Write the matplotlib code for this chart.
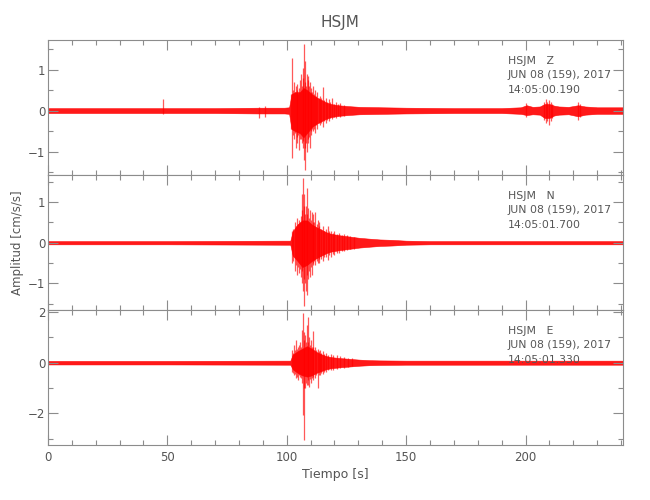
import numpy as np
import matplotlib
matplotlib.use('Agg')
import matplotlib.pyplot as plt
from matplotlib.ticker import MultipleLocator

# Station / header info
station = 'HSJM'
components = ['Z', 'N', 'E']
date_str = 'JUN 08 (159), 2017'
start_times = ['14:05:00.190', '14:05:01.700', '14:05:01.330']

# ---- Z component: envelope ----
t_z = [0, 10, 20, 30, 48, 70, 88, 99, 101.0, 102.0, 103.5, 105.5, 107.0, 108.5, 110.5,
       112.5, 114.5, 116.5, 118.5, 121.5, 125.5, 130.5, 140, 150, 170, 190, 198, 200.5,
       203, 206, 208, 210, 212, 214, 218, 222, 225, 230, 240.7]
hi_z = [0.06, 0.06, 0.06, 0.06, 0.06, 0.06, 0.07, 0.07, 0.08, 0.4, 0.45, 0.45, 0.55, 0.5,
        0.4, 0.32, 0.26, 0.2, 0.16, 0.13, 0.11, 0.09, 0.08, 0.07, 0.06, 0.06, 0.08, 0.13,
        0.09, 0.1, 0.16, 0.16, 0.12, 0.1, 0.09, 0.13, 0.1, 0.08, 0.08]
lo_z = [-0.06, -0.06, -0.06, -0.06, -0.06, -0.06, -0.07, -0.07, -0.08, -0.45, -0.5, -0.55,
        -0.65, -0.55, -0.4, -0.32, -0.26, -0.2, -0.16, -0.13, -0.11, -0.09, -0.08, -0.07,
        -0.06, -0.06, -0.08, -0.11, -0.09, -0.1, -0.18, -0.18, -0.12, -0.1, -0.09, -0.14,
        -0.1, -0.08, -0.08]
# individual spikes (time, max, min)
spk_t_z = [48.0, 88.2, 90.7, 101.7, 102.3, 102.7, 103.0, 103.4, 103.7, 104.1, 104.5, 104.9,
           105.3, 105.6, 106.0, 106.4, 106.7, 107.0, 107.3, 107.5, 107.8, 108.1, 108.4,
           108.7, 109.0, 109.3, 109.6, 110.0, 110.3, 110.7, 111.1, 111.5, 111.9, 112.3,
           112.8, 113.4, 114.0, 114.5, 115.1, 115.7, 116.3, 116.9, 117.5, 118.2, 119.0,
           119.7, 120.5, 121.5, 122.5, 124.0, 200.4, 207.8, 208.5, 209.1, 209.7, 210.5,
           211.2, 221.9, 222.7]
spk_hi_z = [0.28, 0.08, 0.1, 0.4, 1.29, 0.5, 0.7, 0.45, 0.6, 0.5, 0.65, 0.4, 0.55, 0.75,
            0.9, 0.6, 1.04, 0.8, 1.63, 0.7, 1.2, 0.6, 0.9, 0.75, 0.85, 0.6, 0.7, 0.45,
            0.55, 0.45, 0.6, 0.4, 0.5, 0.35, 0.45, 0.3, 0.35, 0.3, 0.58, 0.25, 0.3, 0.22,
            0.28, 0.2, 0.3, 0.17, 0.2, 0.15, 0.18, 0.14, 0.19, 0.2, 0.28, 0.2, 0.25, 0.22,
            0.16, 0.2, 0.15]
spk_lo_z = [-0.08, -0.18, -0.15, -0.45, -1.15, -0.6, -0.7, -0.55, -0.9, -0.65, -0.8, -0.6,
            -0.95, -0.7, -0.7, -0.8, -0.9, -0.75, -1.2, -0.9, -1.45, -0.8, -1.0, -0.7,
            -0.8, -0.65, -0.9, -0.5, -0.6, -0.45, -0.5, -0.45, -0.55, -0.35, -0.45, -0.3,
            -0.35, -0.3, -0.4, -0.25, -0.3, -0.22, -0.25, -0.18, -0.2, -0.16, -0.18, -0.14,
            -0.15, -0.12, -0.15, -0.22, -0.3, -0.25, -0.35, -0.25, -0.18, -0.23, -0.16]

# ---- N component ----
t_n = [0, 50, 99, 101.5, 102.5, 104.5, 106.5, 108.5, 110.5, 112.5, 114.5, 116.5, 118.5,
       122.5, 126.5, 130.5, 134.5, 139, 144, 150, 160, 240.7]
hi_n = [0.04, 0.04, 0.05, 0.05, 0.28, 0.45, 0.55, 0.55, 0.45, 0.38, 0.32, 0.26, 0.22, 0.18,
        0.15, 0.12, 0.1, 0.08, 0.07, 0.05, 0.04, 0.04]
lo_n = [-0.04, -0.04, -0.05, -0.05, -0.32, -0.45, -0.6, -0.55, -0.45, -0.38, -0.32, -0.26,
        -0.22, -0.18, -0.15, -0.12, -0.1, -0.08, -0.07, -0.05, -0.04, -0.04]
spk_t_n = [102.1, 102.7, 103.3, 103.7, 104.2, 104.6, 105.1, 105.5, 105.9, 106.2, 106.5,
           106.8, 107.1, 107.4, 107.7, 107.9, 108.3, 108.6, 109.0, 109.3, 109.7, 110.0,
           110.4, 110.8, 111.1, 111.5, 112.0, 112.5, 112.9, 113.3, 113.7, 114.3, 115.0,
           115.7, 116.4, 117.1, 117.8, 118.5, 119.3, 120.0, 121.0, 122.0, 123.0, 124.0,
           125.3, 126.5, 128.0]
spk_hi_n = [0.3, 0.35, 0.5, 0.4, 0.6, 0.45, 0.55, 0.5, 0.65, 0.8, 1.2, 1.6, 0.9, 1.2, 0.7,
            0.9, 1.35, 0.7, 0.85, 0.6, 0.8, 0.55, 0.75, 0.5, 0.7, 0.5, 0.75, 0.45, 0.55,
            0.4, 0.5, 0.35, 0.4, 0.3, 0.35, 0.4, 0.28, 0.3, 0.25, 0.28, 0.22, 0.25, 0.2,
            0.22, 0.18, 0.16, 0.15]
spk_lo_n = [-0.5, -0.45, -0.7, -0.55, -0.8, -0.6, -0.75, -0.65, -0.85, -0.7, -1.0, -1.2,
            -0.9, -1.55, -1.0, -1.2, -1.3, -0.8, -0.9, -0.7, -0.85, -0.6, -0.8, -0.5,
            -0.55, -0.45, -0.55, -0.45, -0.5, -0.4, -0.5, -0.4, -0.45, -0.35, -0.35,
            -0.43, -0.3, -0.35, -0.28, -0.3, -0.25, -0.25, -0.2, -0.2, -0.18, -0.16, -0.15]

# ---- E component ----
t_e = [0, 50, 99, 101.5, 102.5, 104.5, 106.5, 108.5, 110.5, 112.5, 114.5, 116.5, 118.5,
       122.5, 126.5, 130.5, 134.5, 139, 150, 240.7]
hi_e = [0.07, 0.07, 0.08, 0.08, 0.32, 0.45, 0.55, 0.65, 0.55, 0.42, 0.33, 0.26, 0.22, 0.18,
        0.15, 0.12, 0.1, 0.09, 0.08, 0.08]
lo_e = [-0.07, -0.07, -0.08, -0.08, -0.26, -0.4, -0.5, -0.55, -0.5, -0.4, -0.33, -0.26,
        -0.22, -0.18, -0.15, -0.12, -0.1, -0.09, -0.08, -0.08]
spk_t_e = [102.1, 102.5, 102.9, 103.3, 103.8, 104.2, 104.7, 105.1, 105.6, 106.0, 106.4,
           106.8, 107.1, 107.4, 107.7, 108.0, 108.3, 108.8, 109.1, 109.5, 109.9, 110.2,
           110.5, 110.8, 111.2, 111.7, 112.3, 112.9, 113.4, 113.8, 114.4, 115.0, 115.7,
           116.5, 117.3, 118.5, 119.5, 121.0, 122.5, 124.0, 125.5, 127.5]
spk_hi_e = [0.5, 0.4, 0.7, 0.5, 0.9, 0.55, 0.6, 0.7, 0.8, 0.6, 1.3, 1.96, 1.2, 0.9, 1.1,
            0.8, 1.5, 1.82, 0.8, 1.0, 0.7, 0.9, 0.6, 1.25, 0.6, 0.6, 0.5, 0.55, 0.45, 0.5,
            0.4, 0.45, 0.35, 0.4, 0.3, 0.35, 0.3, 0.3, 0.25, 0.22, 0.2, 0.17]
spk_lo_e = [-0.35, -0.4, -0.5, -0.45, -0.6, -0.55, -0.7, -0.5, -0.55, -0.6, -0.8, -2.07,
            -3.05, -1.0, -1.0, -0.8, -0.9, -0.9, -0.7, -0.95, -0.65, -0.8, -0.6, -0.7,
            -0.55, -0.6, -0.5, -1.0, -0.5, -0.5, -0.4, -0.45, -0.35, -0.35, -0.3, -0.3,
            -0.28, -0.25, -0.22, -0.2, -0.18, -0.15]

traces = [
    (t_z, hi_z, lo_z, spk_t_z, spk_hi_z, spk_lo_z),
    (t_n, hi_n, lo_n, spk_t_n, spk_hi_n, spk_lo_n),
    (t_e, hi_e, lo_e, spk_t_e, spk_hi_e, spk_lo_e),
]
ylims = [(-1.57, 1.72), (-1.66, 1.67), (-3.25, 2.08)]
ymajor = [1, 1, 2]
yminor = [0.5, 0.5, 1]

axcol = '#8c8c8c'
txtcol = '#555555'

fig = plt.figure(figsize=(6.5, 5), dpi=100)
gs = fig.add_gridspec(3, 1, left=0.0738, right=0.958, bottom=0.11, top=0.92, hspace=0)

for i in range(3):
    ax = fig.add_subplot(gs[i])
    t, hi, lo, st, sh, sl = traces[i]
    ax.fill_between(t, lo, hi, color='red', linewidth=0.4, alpha=0.9)
    ax.vlines(st, sl, sh, color='red', linewidth=0.9, alpha=0.65)

    ax.set_xlim(0, 240.7)
    ax.set_ylim(*ylims[i])
    ax.xaxis.set_major_locator(MultipleLocator(50))
    ax.xaxis.set_minor_locator(MultipleLocator(10))
    ax.yaxis.set_major_locator(MultipleLocator(ymajor[i]))
    ax.yaxis.set_minor_locator(MultipleLocator(yminor[i]))
    ax.tick_params(which='both', direction='in', top=True, right=True,
                   color=axcol, labelcolor=txtcol, labelsize=8.5, width=0.8, pad=2)
    ax.tick_params(which='major', length=7)
    ax.tick_params(which='minor', length=3.5)
    for s in ax.spines.values():
        s.set_color(axcol)
        s.set_linewidth(0.8)
    if i < 2:
        ax.tick_params(labelbottom=False)
    else:
        ax.tick_params(axis='x', pad=4)
        ax.set_xlabel('Tiempo [s]', color=txtcol, fontsize=9, labelpad=3)
    if i == 1:
        ax.set_ylabel('Amplitud [cm/s/s]', color=txtcol, fontsize=8.5)
        ax.yaxis.set_label_coords(-0.042, 0.5)

    ax.text(0.80, 0.844, station + '   ' + components[i], transform=ax.transAxes,
            color=txtcol, fontsize=7.8, va='center', ha='left')
    ax.text(0.80, 0.74, date_str, transform=ax.transAxes,
            color=txtcol, fontsize=7.8, va='center', ha='left')
    ax.text(0.80, 0.633, start_times[i], transform=ax.transAxes,
            color=txtcol, fontsize=7.8, va='center', ha='left')

fig.text(0.523, 0.955, station, ha='center', va='center', color=txtcol, fontsize=11)

plt.savefig('out.png', dpi=100)
